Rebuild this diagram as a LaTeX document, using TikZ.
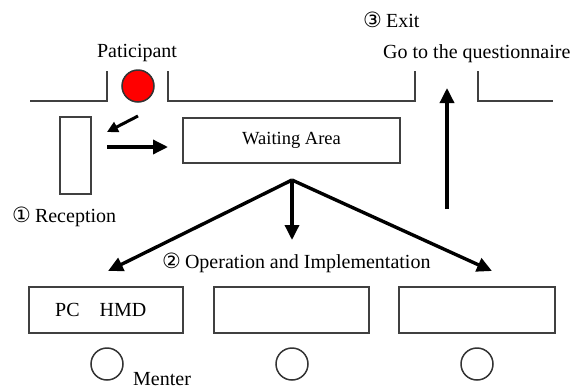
\documentclass[tikz,border=0pt]{standalone}
\usepackage{fontspec}
\setmainfont{Liberation Serif}
\newfontfamily\circfont{DejaVu Sans}
\usetikzlibrary{arrows.meta}
\begin{document}
\begin{tikzpicture}[x=1pt,y=-1pt,
  wall/.style={draw=black!75,line width=1.8pt},
  box/.style={draw=black!75,line width=1.6pt,rectangle,inner sep=0pt},
  person/.style={draw=black!80,line width=1.5pt,circle,minimum size=32pt,inner sep=0pt},
  flow/.style={line width=3.4pt,-{Triangle[length=15pt,width=14pt]}},
  lbl/.style={font=\fontsize{20}{22}\selectfont,inner sep=0pt}]
\useasboundingbox (0,0) rectangle (570,389);
% walls
\draw[wall] (30,101) -- (107,101) -- (107,71);
\draw[wall] (168,71) -- (168,101) -- (415,101) -- (415,71);
\draw[wall] (478,71) -- (478,101) -- (553,101);
% participant
\node[person,fill=red] (pat) at (138,86) {};
\node[lbl] (patl) at (137,53) {Paticipant};
% reception
\node[box,minimum width=31pt,minimum height=77pt] (recep) at (75.5,155.5) {};
\node[lbl,anchor=west] (recl) at (12,217) {{\circfont\fontsize{21}{22}\selectfont ①}\hspace{4pt}Reception};
% waiting area
\node[box,minimum width=217pt,minimum height=45pt,font=\fontsize{18.5}{20}\selectfont] (wait) at (291.5,140.5) {Waiting Area};
% arrows near reception
\coordinate (s1) at (138,116);
\coordinate (e1) at (107,132);
\draw[flow,line width=3pt,-{Triangle[length=11pt,width=11pt]}] (s1) -- (e1);
\coordinate (s2) at (107,147);
\coordinate (e2) at (168,147);
\draw[flow] (s2) -- (e2);
% operation
\coordinate (apex) at (292,180);
\coordinate (tl) at (108,271);
\coordinate (tm) at (292,240);
\coordinate (tr) at (492,271);
\draw[flow] (apex) -- (tl);
\draw[flow] (apex) -- (tm);
\draw[flow] (apex) -- (tr);
\node[lbl,anchor=west] (opl) at (162,263) {{\circfont\fontsize{21}{22}\selectfont ②}\hspace{4pt}Operation and Implementation};
% stations
\node[box,minimum width=154pt,minimum height=46pt] (b1) at (106,310) {};
\node[box,minimum width=155pt,minimum height=46pt] (b2) at (291.5,310) {};
\node[box,minimum width=156pt,minimum height=46pt] (b3) at (477,310) {};
\node[lbl,anchor=west] (pch) at (55,310) {PC\quad HMD};
\node[person] (m1) at (107,364) {};
\node[person] (m2) at (292,364) {};
\node[person] (m3) at (477,364) {};
\node[lbl,anchor=west] (ment) at (133,379) {Menter};
% exit
\coordinate (us) at (447,209);
\coordinate (ue) at (447,88);
\draw[flow] (us) -- (ue);
\node[lbl,anchor=west] (exitl) at (363,20) {{\circfont\fontsize{21}{22}\selectfont ③}\hspace{4pt}Exit};
\node[lbl,anchor=west] (goq) at (383,54) {Go to the questionnaire};
\end{tikzpicture}
\end{document}
